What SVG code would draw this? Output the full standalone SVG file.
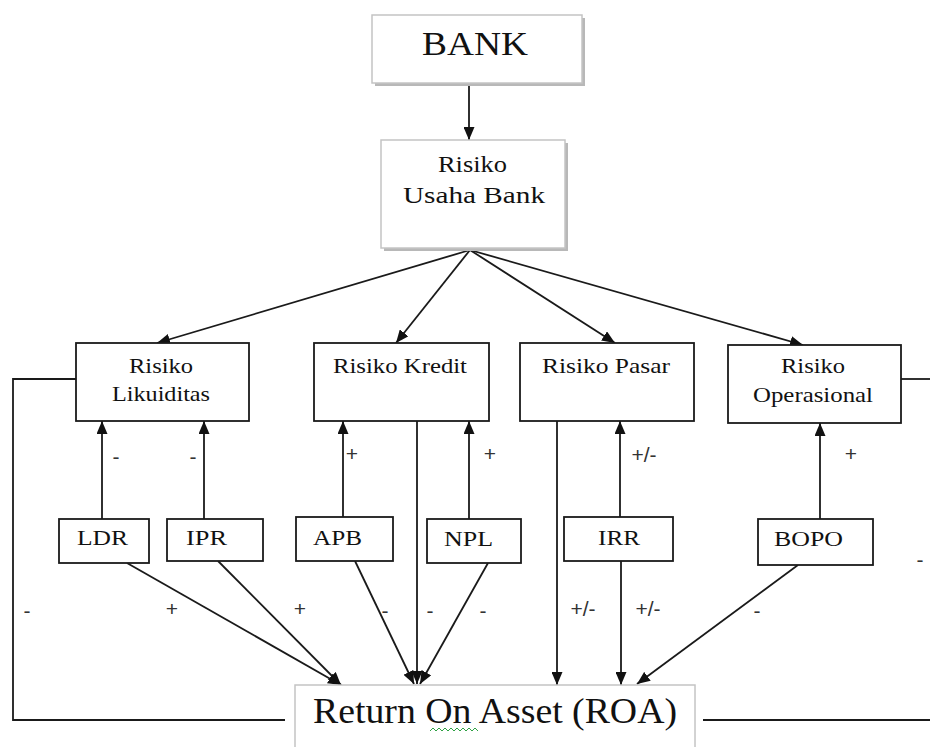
<svg xmlns="http://www.w3.org/2000/svg" width="930" height="747" viewBox="0 0 930 747">
<style>
  .box { fill: #ffffff; stroke: #1a1a1a; stroke-width: 1.8; }
  .gbox { fill: #ffffff; stroke: #c4c4c4; stroke-width: 1.5; }
  .shadow { fill: #b8b8b8; }
  .t { font-family: "Liberation Serif", "Times New Roman", serif; fill: #111; }
  .lbl { font-family: "Liberation Sans", Arial, sans-serif; font-size: 21px; fill: #333; text-anchor: middle; dominant-baseline: central; }
  .ln { stroke: #1a1a1a; stroke-width: 1.8; fill: none; }
  .arr { stroke: #1a1a1a; stroke-width: 1.8; fill: none; marker-end: url(#ah); }
</style>
<defs>
  <marker id="ah" markerUnits="userSpaceOnUse" markerWidth="13" markerHeight="11" refX="13" refY="5.5" orient="auto">
    <path d="M0,0 L13,5.5 L0,11 z" fill="#111"/>
  </marker>
</defs>
<rect width="930" height="747" fill="#ffffff"/>

<g id="connectors">
  <line class="arr" x1="469" y1="85" x2="469" y2="140"/>
  <line class="arr" x1="470" y1="250" x2="157" y2="343"/>
  <line class="arr" x1="470" y1="250" x2="396" y2="343"/>
  <line class="arr" x1="470" y1="250" x2="615" y2="343"/>
  <line class="arr" x1="470" y1="250" x2="803" y2="345"/>

  <line class="arr" x1="102" y1="519" x2="102" y2="421"/>
  <line class="arr" x1="204" y1="519" x2="204" y2="421"/>
  <line class="arr" x1="343" y1="517" x2="343" y2="421"/>
  <line class="arr" x1="469" y1="519" x2="469" y2="421"/>
  <line class="arr" x1="620" y1="517" x2="620" y2="421"/>
  <line class="arr" x1="820" y1="519" x2="820" y2="423"/>

  <line class="arr" x1="127" y1="563" x2="341" y2="685"/>
  <line class="arr" x1="218" y1="561" x2="341" y2="685"/>
  <line class="arr" x1="355" y1="561" x2="414" y2="684"/>
  <line class="arr" x1="417" y1="417" x2="417" y2="684"/>
  <line class="arr" x1="488" y1="563" x2="420" y2="684"/>
  <line class="arr" x1="557" y1="421" x2="557" y2="685"/>
  <line class="arr" x1="621" y1="561" x2="621" y2="685"/>
  <line class="arr" x1="798" y1="565" x2="637" y2="684"/>

  <polyline class="ln" points="76,379 13,379 13,720 285,720"/>
  <line class="ln" x1="703" y1="720" x2="930" y2="720"/>
  <line class="ln" x1="901" y1="379" x2="930" y2="379"/>

  <text class="lbl" x="116" y="456">-</text>
  <text class="lbl" x="193" y="456">-</text>
  <text class="lbl" x="352" y="453">+</text>
  <text class="lbl" x="490" y="453">+</text>
  <text class="lbl" x="644" y="454">+/-</text>
  <text class="lbl" x="851" y="453">+</text>
  <text class="lbl" x="27" y="610">-</text>
  <text class="lbl" x="172" y="608">+</text>
  <text class="lbl" x="300" y="608">+</text>
  <text class="lbl" x="385" y="610">-</text>
  <text class="lbl" x="430" y="610">-</text>
  <text class="lbl" x="483" y="610">-</text>
  <text class="lbl" x="583" y="608">+/-</text>
  <text class="lbl" x="648" y="608">+/-</text>
  <text class="lbl" x="757" y="610">-</text>
  <text class="lbl" x="920" y="559">-</text>
</g>

<g id="bank">
  <rect class="shadow" x="375" y="18" width="210" height="68"/>
  <rect class="gbox" x="372" y="15" width="210" height="68"/>
  <text class="t" x="422" y="55" font-size="34" textLength="106" lengthAdjust="spacingAndGlyphs">BANK</text>
</g>

<g id="risiko-usaha-bank">
  <rect class="shadow" x="384" y="143" width="184" height="108"/>
  <rect class="gbox" x="381" y="140" width="184" height="108"/>
  <text class="t" x="438" y="172" font-size="24" textLength="69" lengthAdjust="spacingAndGlyphs">Risiko</text>
  <text class="t" x="403" y="203" font-size="24" textLength="142" lengthAdjust="spacingAndGlyphs">Usaha Bank</text>
</g>

<g id="risiko-likuiditas">
  <rect class="box" x="76" y="343" width="173" height="78"/>
  <text class="t" x="129" y="373" font-size="22" textLength="64" lengthAdjust="spacingAndGlyphs">Risiko</text>
  <text class="t" x="112" y="401" font-size="22" textLength="98" lengthAdjust="spacingAndGlyphs">Likuiditas</text>
</g>

<g id="risiko-kredit">
  <rect class="box" x="314" y="343" width="175" height="78"/>
  <text class="t" x="333" y="373" font-size="22" textLength="134" lengthAdjust="spacingAndGlyphs">Risiko Kredit</text>
</g>

<g id="risiko-pasar">
  <rect class="box" x="520" y="343" width="174" height="78"/>
  <text class="t" x="542" y="373" font-size="22" textLength="128" lengthAdjust="spacingAndGlyphs">Risiko Pasar</text>
</g>

<g id="risiko-operasional">
  <rect class="box" x="728" y="345" width="173" height="78"/>
  <text class="t" x="781" y="373" font-size="22" textLength="64" lengthAdjust="spacingAndGlyphs">Risiko</text>
  <text class="t" x="753" y="402" font-size="22" textLength="120" lengthAdjust="spacingAndGlyphs">Operasional</text>
</g>

<g id="ldr">
  <rect class="box" x="59" y="519" width="90" height="44"/>
  <text class="t" x="77" y="545" font-size="22" textLength="51" lengthAdjust="spacingAndGlyphs">LDR</text>
</g>

<g id="ipr">
  <rect class="box" x="167" y="519" width="96" height="42"/>
  <text class="t" x="186" y="545" font-size="22" textLength="41" lengthAdjust="spacingAndGlyphs">IPR</text>
</g>

<g id="apb">
  <rect class="box" x="296" y="517" width="97" height="44"/>
  <text class="t" x="313" y="545" font-size="22" textLength="49" lengthAdjust="spacingAndGlyphs">APB</text>
</g>

<g id="npl">
  <rect class="box" x="427" y="519" width="94" height="44"/>
  <text class="t" x="444" y="546" font-size="22" textLength="49" lengthAdjust="spacingAndGlyphs">NPL</text>
</g>

<g id="irr">
  <rect class="box" x="564" y="517" width="109" height="44"/>
  <text class="t" x="598" y="545" font-size="22" textLength="42" lengthAdjust="spacingAndGlyphs">IRR</text>
</g>

<g id="bopo">
  <rect class="box" x="758" y="519" width="115" height="46"/>
  <text class="t" x="774" y="546" font-size="22" textLength="69" lengthAdjust="spacingAndGlyphs">BOPO</text>
</g>

<g id="roa">
  <rect class="gbox" x="295" y="685" width="400" height="80"/>
  <text class="t" x="313" y="723" font-size="35" textLength="364" lengthAdjust="spacingAndGlyphs">Return On Asset (ROA)</text>
  <polyline points="430,731 433,728 436,731 439,728 442,731 445,728 448,731 451,728 454,731 457,728 460,731 463,728 466,731 469,728 472,731 475,728 478,731" fill="none" stroke="#2ea043" stroke-width="1"/>
</g>
</svg>
